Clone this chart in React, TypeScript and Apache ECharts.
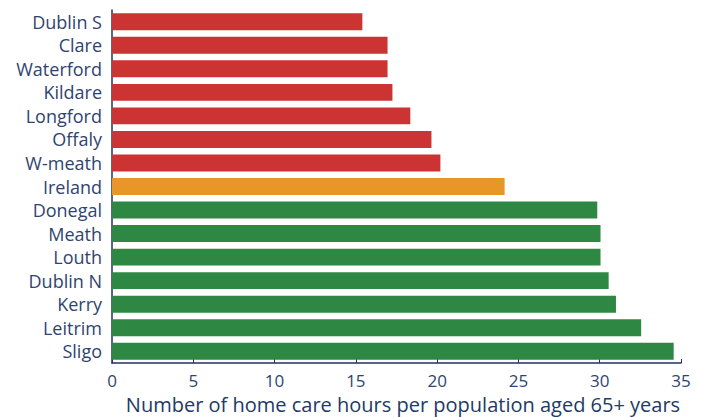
import React, { useEffect, useRef } from "react";
import * as echarts from "echarts";

const categories = [
  "Dublin S", "Clare", "Waterford", "Kildare", "Longford", "Offaly", "W-meath",
  "Ireland", "Donegal", "Meath", "Louth", "Dublin N", "Kerry", "Leitrim", "Sligo",
];
const values = [15.4, 16.95, 16.95, 17.25, 18.35, 19.65, 20.2, 24.15, 29.85, 30.05, 30.05, 30.55, 31.0, 32.55, 34.55];
const groups = ["low", "low", "low", "low", "low", "low", "low", "national", "high", "high", "high", "high", "high", "high", "high"];
const xTicks = [0, 5, 10, 15, 20, 25, 30, 35];
const xTitle = "Number of home care hours per population aged 65+ years";

const groupColors: Record<string, string> = {
  low: "#CC3333",
  national: "#E99628",
  high: "#2E8844",
};

export default function App() {
  const ref = useRef<HTMLDivElement>(null);
  useEffect(() => {
    document.body.style.margin = "0";
    if (!ref.current) return;
    const chart = echarts.init(ref.current, undefined, { renderer: "svg" });
    const textColor = "#2F4470";
    const font = "Open Sans";
    chart.setOption({
      animation: false,
      grid: { left: 112, right: 27, top: 10, bottom: 54, outerBoundsMode: "none", containLabel: false },
      graphic: [
        {
          type: "text",
          x: 403,
          y: 393,
          style: {
            text: xTitle,
            fill: "#213A66",
            fontFamily: font,
            fontSize: 20,
            lineHeight: 22,
            textAlign: "center",
            textVerticalAlign: "top",
          },
        },
      ],
      xAxis: {
        type: "value",
        min: xTicks[0],
        max: xTicks[xTicks.length - 1],
        interval: 5,
        splitLine: { show: false },
        axisLine: { show: true, lineStyle: { color: "#1F3361", width: 1.5 } },
        axisTick: { show: true, inside: true, length: 4, lineStyle: { color: "#1F3361" } },
        axisLabel: { color: textColor, fontFamily: font, fontSize: 17, lineHeight: 19, margin: 8 },
      },
      yAxis: {
        type: "category",
        data: categories,
        inverse: true,
        axisLine: { show: true, lineStyle: { color: "#1F3361", width: 1.5 } },
        axisTick: { show: false },
        axisLabel: { color: textColor, fontFamily: font, fontSize: 18, margin: 10, interval: 0 },
      },
      series: [
        {
          type: "bar",
          barWidth: "72%",
          data: values.map((v, i) => ({ value: v, itemStyle: { color: groupColors[groups[i]] } })),
        },
      ],
    });
    return () => chart.dispose();
  }, []);
  return <div ref={ref} style={{ width: 708, height: 417 }} />;
}
